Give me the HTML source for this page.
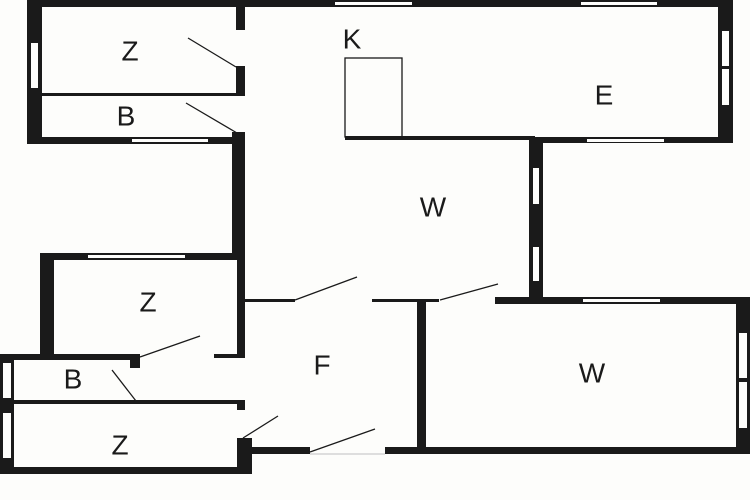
<!DOCTYPE html>
<html><head><style>html,body{margin:0;padding:0;background:#fdfdfb}svg{display:block}text{font-family:"Liberation Sans",sans-serif;font-size:28px;fill:#1a1a1a;text-anchor:middle;dominant-baseline:middle}</style></head>
<body>
<svg width="750" height="500" viewBox="0 0 750 500" xmlns="http://www.w3.org/2000/svg">
<rect width="750" height="500" fill="#fdfdfb"/>
<g fill="#1a1a1a">
<!-- top block -->
<rect x="27" y="0" width="706" height="7"/>
<rect x="718" y="0" width="15" height="143"/>
<rect x="27" y="0" width="15" height="144"/>
<rect x="42" y="93" width="203" height="3"/>
<rect x="236" y="7" width="9" height="23"/>
<rect x="236" y="66" width="9" height="30"/>
<rect x="27" y="137" width="218" height="7"/>
<rect x="232" y="132" width="13" height="128"/>
<rect x="345" y="136" width="190" height="4"/>
<rect x="529" y="137" width="204" height="6"/>
<rect x="529" y="137" width="14" height="166"/>
<!-- left Z -->
<rect x="40" y="253" width="205" height="7"/>
<rect x="40" y="253" width="14" height="105"/>
<rect x="237" y="253" width="8" height="105"/>
<rect x="0" y="354" width="138" height="6"/>
<rect x="130" y="354" width="10" height="14"/>
<rect x="214" y="354" width="31" height="4"/>
<rect x="0" y="354" width="14" height="120"/>
<rect x="14" y="400" width="231" height="4"/>
<rect x="237" y="400" width="8" height="10"/>
<rect x="0" y="467" width="252" height="7"/>
<rect x="237" y="438" width="15" height="36"/>
<rect x="250" y="447" width="60" height="7"/>
<!-- middle horizontal -->
<rect x="245" y="299" width="50" height="3"/>
<rect x="372" y="299" width="67" height="3"/>
<rect x="417" y="299" width="9" height="153"/>
<rect x="495" y="297" width="255" height="7"/>
<rect x="736" y="297" width="14" height="157"/>
<rect x="385" y="447" width="365" height="7"/>
</g>
<g fill="#fdfdfb">
<rect x="335" y="2" width="77" height="3"/>
<rect x="581" y="2" width="76" height="3"/>
<rect x="722" y="31" width="7" height="35"/>
<rect x="722" y="69" width="7" height="36"/>
<rect x="31" y="43" width="7" height="45"/>
<rect x="132" y="139" width="76" height="3"/>
<rect x="587" y="139" width="77" height="3"/>
<rect x="533" y="168" width="6" height="36"/>
<rect x="533" y="247" width="6" height="34"/>
<rect x="88" y="255" width="97" height="3"/>
<rect x="583" y="299" width="77" height="3"/>
<rect x="739" y="333" width="8" height="45"/>
<rect x="739" y="382" width="8" height="46"/>
<rect x="3" y="363" width="8" height="35"/>
<rect x="3" y="413" width="8" height="45"/>
</g>
<g stroke="#1a1a1a" stroke-width="1.3" fill="none">
<rect x="345" y="58" width="57" height="79"/>
<line x1="188" y1="38" x2="236" y2="67"/>
<line x1="186" y1="103" x2="237" y2="133"/>
<line x1="295" y1="300" x2="357" y2="277"/>
<line x1="440" y1="300" x2="498" y2="284"/>
<line x1="140" y1="357" x2="200" y2="336"/>
<line x1="112" y1="370" x2="136" y2="401"/>
<line x1="243" y1="438" x2="278" y2="416"/>
<line x1="310" y1="452" x2="375" y2="429"/>
<line x1="310" y1="454" x2="385" y2="454" stroke="#ccc"/>
</g>
<text x="352" y="41">K</text>
<text x="130" y="53">Z</text>
<text x="126" y="118">B</text>
<text x="604" y="97">E</text>
<text x="433" y="209">W</text>
<text x="148" y="304">Z</text>
<text x="322" y="367">F</text>
<text x="73" y="381">B</text>
<text x="120" y="447">Z</text>
<text x="592" y="375">W</text>
</svg>
</body></html>
